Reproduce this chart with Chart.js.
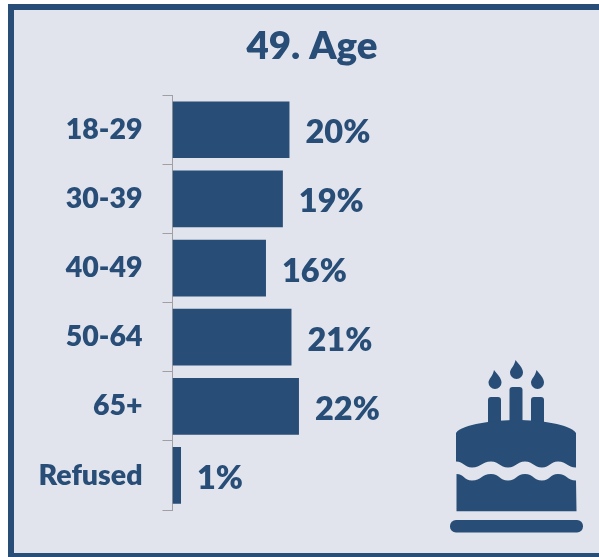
<!DOCTYPE html>
<html><head><meta charset="utf-8">
<style>html,body{margin:0;padding:0;background:#fff;overflow:hidden}canvas{display:block}#w{width:599px;height:557px;position:relative}</style>
<script src="https://cdn.jsdelivr.net/npm/chart.js@4"></script></head>
<body><div id="w"><canvas id="c" width="599" height="557"></canvas></div>
<script>
const categories = ['18-29','30-39','40-49','50-64','65+','Refused'];
const percentValues = [20.35,19.2,16.26,20.7,22.0,1.48];
const chartTitle = '49. Age';
const ink = '#284d76', panel = '#e1e4ed';

const panelPlugin = { id:'panel', beforeDraw(ch){
  const g = ch.ctx; g.save();
  g.fillStyle = ink; g.fillRect(8,4,591,553);
  g.fillStyle = panel; g.fillRect(14,10,585,543);
  g.restore();
}};
const labelPlugin = { id:'valueLabels', afterDatasetsDraw(ch){
  const g = ch.ctx, meta = ch.getDatasetMeta(0); g.save();
  g.fillStyle = ink; g.font = '800 32.5px Lato'; g.textAlign='left'; g.textBaseline='middle';
  meta.data.forEach((b,i)=>{ g.fillText(Math.round(percentValues[i])+'%', b.x+16, b.y+3); });
  g.restore();
}};
const cakePlugin = { id:'cake', afterDraw(ch){
  const g = ch.ctx; g.save(); g.fillStyle = ink;
  const flame = (x,y)=>{ g.beginPath(); g.moveTo(x-1,y);
    g.bezierCurveTo(x+2,y+4,x+6.5,y+8,x+6.5,y+12.5); g.arc(x,y+12.5,6.5,0,Math.PI);
    g.bezierCurveTo(x-6.5,y+9,x-2,y+6,x-1,y); g.fill(); };
  flame(495,370); flame(516.5,360); flame(537.5,370);
  const rr=(x,y,w,h,r)=>{ g.beginPath(); g.roundRect(x,y,w,h,r); g.fill(); };
  rr(488,397,13,36,[3,3,0,0]); rr(509.5,387,13,46,[3,3,0,0]); rr(531,397,13,36,[3,3,0,0]);
  const wave=(yHigh,yLow,reverse)=>{ // scalloped edge, crest spacing ~34px
    const stops=[456,472,491,508,525,542,558,576];
    const pts=stops.map((x,i)=>[x,i%2?yLow:yHigh]);
    if(reverse) pts.reverse();
    pts.slice(1).forEach((p,i)=>{ const q=pts[i], m=(q[0]+p[0])/2; g.bezierCurveTo(m,q[1],m,p[1],p[0],p[1]); });
  };
  g.beginPath(); g.moveTo(456,461.5); g.lineTo(456,433);
  g.bezierCurveTo(462,424,495,420,516.5,420); g.bezierCurveTo(540,420,570,424,576,433);
  g.lineTo(576,467.5); wave(461.5,467.5,true); g.closePath(); g.fill();
  g.beginPath(); g.moveTo(456.5,511.3); g.lineTo(456.5,474);
  wave(474,480.5,false);
  g.lineTo(576.5,511.3); g.closePath(); g.fill();
  rr(450,520,133,12.5,6);
  g.restore();
}};

new Chart(document.getElementById('c'),{
  type:'bar',
  data:{labels:categories,datasets:[{data:percentValues,backgroundColor:ink,borderWidth:0,categoryPercentage:0.82,barPercentage:1}]},
  plugins:[panelPlugin,labelPlugin,cakePlugin],
  options:{
    indexAxis:'y',responsive:false,animation:false,
    layout:{padding:{left:25,right:0,top:23,bottom:47}},
    plugins:{legend:{display:false},tooltip:{enabled:false},
      title:{display:true,text:chartTitle,color:ink,font:{family:'Lato',size:38.5,weight:'800'},padding:{top:0,bottom:26}}},
    scales:{
      x:{display:false,min:0,max:74.2},
      y:{
        afterFit(a){a.width=147.5;},
        grid:{drawOnChartArea:false,drawTicks:true,tickLength:10,color:'#a0a0a4',offset:true},
        border:{display:true,color:'#a0a0a4',width:1},
        ticks:{color:ink,font:{family:'Lato',size:28.5,weight:'800'},padding:20,autoSkip:false}
      }
    }
  }
});
</script></body></html>
